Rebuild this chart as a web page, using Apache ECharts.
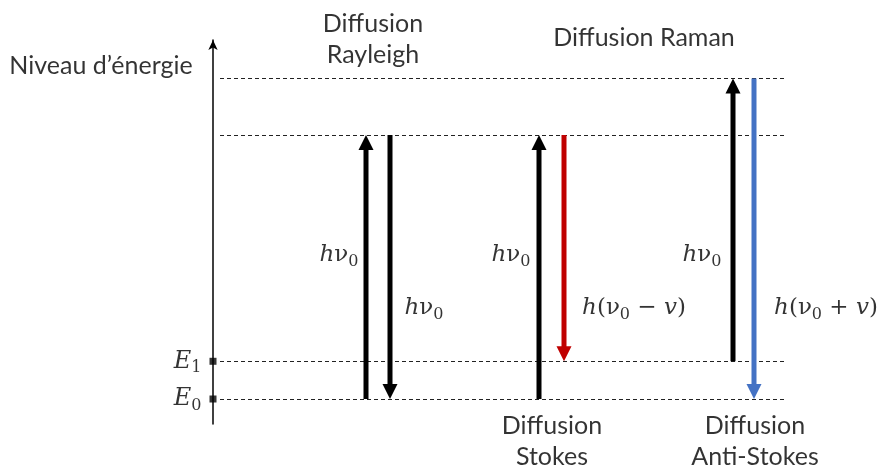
<!DOCTYPE html>
<html>
<head>
<meta charset="utf-8">
<script src="https://cdn.jsdelivr.net/npm/echarts@6/dist/echarts.min.js"></script>
<style>html,body{margin:0;padding:0;background:#fff}#c{width:880px;height:468px}</style>
</head>
<body>
<div id="c"></div>
<script>
// Energy levels (arbitrary units): ground E0, vibrational E1, two virtual levels
const levelNames = ['E0', 'E1', 'V1', 'V2'];
const levelValues = [0, 1, 7, 8.5];
// Transitions (arrows): x position, start level, end level
const arrowNames = ['Rayleigh up', 'Rayleigh down', 'Stokes up', 'Stokes down', 'Anti-Stokes up', 'Anti-Stokes down'];
const arrowX = [153, 177, 326, 351, 520, 541];
const arrowFrom = [0, 7, 0, 7, 1, 8.5];
const arrowTo = [7, 0, 7, 1, 8.5, 0];
// Energy labels on the arrows
const energyLabels = ['hv0', 'hv0', 'hv0', 'h(v0-v)', 'hv0', 'h(v0+v)'];
const energyLabelX = [126, 211, 298, 421, 489, 613];
const energyLabelY = [3.82, 2.41, 3.82, 2.41, 3.82, 2.41];
// Section titles
const titles = ['Diffusion\nRayleigh', 'Diffusion Raman', 'Diffusion\nStokes', 'Diffusion\nAnti-Stokes', 'Niveau d\u2019énergie'];
const titleX = [160, 431, 339, 542, -112];
const titleY = [9.53, 9.57, -1.12, -1.12, 8.83];

const arrowColors = ['#000', '#000', '#000', '#c00000', '#000', '#4472c4'];
const xMin = 0, xMax = 573;
const levelStart = 7;

const mathFont = 'DejaVu Serif';
const textFont = 'Lato';
const rich = {
  it: { fontFamily: mathFont, fontStyle: 'italic', fontSize: 23, color: '#000', lineHeight: 30 },
  up: { fontFamily: mathFont, fontSize: 23, color: '#000', lineHeight: 30 },
  sub: { fontFamily: mathFont, fontSize: 16, color: '#000', lineHeight: 30, padding: [13, 0, 0, 0] },
  E: { fontFamily: mathFont, fontStyle: 'italic', fontSize: 24, color: '#000', lineHeight: 30 }
};
function mathText(s) {
  if (s === 'hv0') return '{it|h}{up|\u03bd}{sub|0}';
  if (s === 'h(v0-v)') return '{it|h}{up|(\u03bd}{sub|0}{up| \u2212 }{it|v}{up|)}';
  if (s === 'h(v0+v)') return '{it|h}{up|(\u03bd}{sub|0}{up| + }{it|v}{up|)}';
  if (s === 'E0') return '{E|E}{sub|0}';
  if (s === 'E1') return '{E|E}{sub|1}';
  return s;
}

function renderArrow(params, api) {
  const x = api.value(0);
  const p1 = api.coord([x, api.value(1)]);
  const p2 = api.coord([x, api.value(2)]);
  const dir = p2[1] > p1[1] ? 1 : -1;
  const headLen = 15, headHalf = 7.5, shaftW = 5;
  const color = arrowColors[params.dataIndex];
  const baseY = p2[1] - dir * headLen;
  return {
    type: 'group',
    children: [
      { type: 'rect', shape: { x: p1[0] - shaftW / 2, y: Math.min(p1[1], baseY + dir), width: shaftW, height: Math.abs(baseY + dir - p1[1]) }, style: { fill: color } },
      { type: 'polygon', shape: { points: [[p2[0], p2[1]], [p2[0] - headHalf, baseY], [p2[0] + headHalf, baseY]] }, style: { fill: color } }
    ]
  };
}

const chart = echarts.init(document.getElementById('c'), null, { renderer: 'canvas' });
chart.setOption({
  animation: false,
  backgroundColor: '#fff',
  grid: { left: 213, right: 94, top: 40, bottom: 44 },
  xAxis: { type: 'value', min: xMin, max: xMax, show: false },
  yAxis: {
    type: 'value', min: -0.663, max: 9.52,
    axisLine: { show: true, lineStyle: { color: '#000', width: 1.5 }, symbol: ['none', 'arrow'], symbolSize: [7, 10] },
    axisTick: { show: false }, axisLabel: { show: false }, splitLine: { show: false }
  },
  series: [
    {
      type: 'lines', coordinateSystem: 'cartesian2d', silent: true, symbol: 'none',
      lineStyle: { color: '#222', width: 1, type: [4, 3], opacity: 1 },
      data: levelValues.map(v => ({ coords: [[levelStart, v], [xMax, v]] }))
    },
    {
      type: 'custom', silent: true, clip: false,
      data: arrowX.map((x, i) => [x, arrowFrom[i], arrowTo[i]]),
      renderItem: renderArrow
    },
    {
      type: 'scatter', symbol: 'rect', symbolSize: 7, itemStyle: { color: '#000' }, silent: true,
      data: [[0, levelValues[0], levelNames[0]], [0, levelValues[1], levelNames[1]]],
      label: { show: true, position: 'left', distance: 8, formatter: p => mathText(p.data[2]), rich: rich }
    },
    {
      type: 'scatter', symbolSize: 0, clip: false, silent: true,
      data: energyLabels.map((t, i) => [energyLabelX[i], energyLabelY[i], t]),
      label: { show: true, position: 'inside', formatter: p => mathText(p.data[2]), rich: rich }
    },
    {
      type: 'scatter', symbolSize: 0, clip: false, silent: true,
      data: titles.map((t, i) => [titleX[i], titleY[i], t]),
      label: { show: true, position: 'inside', formatter: p => p.data[2], color: '#000', fontFamily: textFont, fontSize: 25, lineHeight: 31, align: 'center' }
    }
  ]
});
</script>
</body>
</html>
